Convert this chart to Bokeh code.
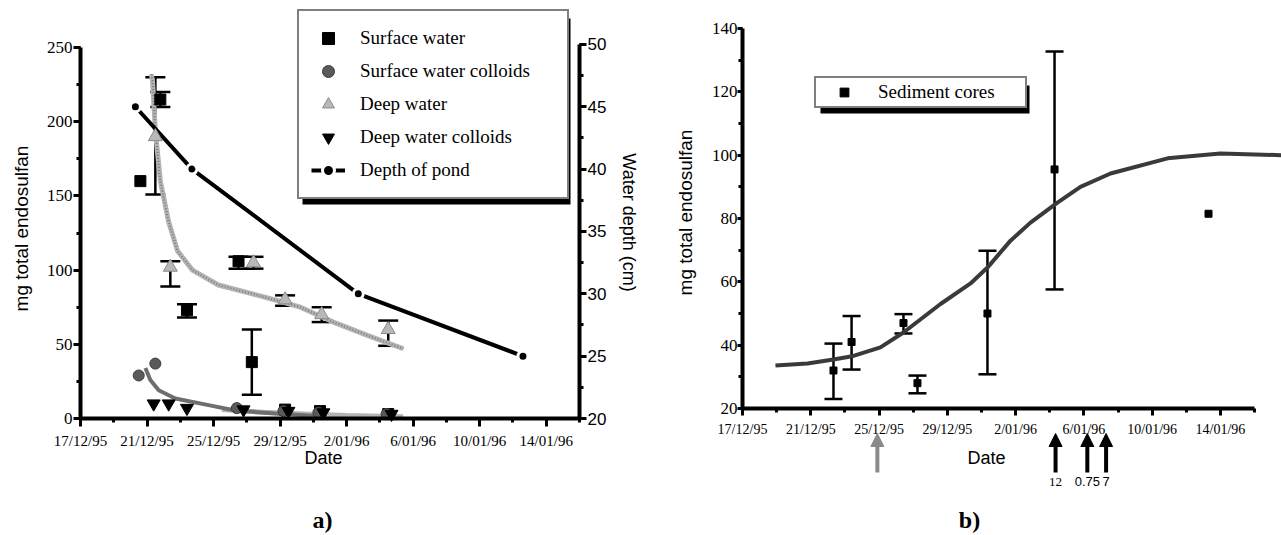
import math
from bokeh.plotting import figure
from bokeh.models import (Range1d, LinearAxis, FixedTicker, Whisker, TeeHead, ColumnDataSource,
                          Legend, LegendItem, BoxAnnotation, Arrow, NormalHead, Label)
from bokeh.layouts import row
from bokeh.embed import file_html
from bokeh.resources import INLINE

# ---------------- data (x = days since 17/12/1995) ----------------
date_ticks = [0, 4, 8, 12, 16, 20, 24, 28]
date_labels = ["17/12/95", "21/12/95", "25/12/95", "29/12/95", "2/01/96", "6/01/96", "10/01/96", "14/01/96"]

# panel a
surface_day = [3.6, 4.8, 6.4, 9.5, 10.3, 12.3, 14.4, 18.5]
surface_mg = [160, 215, 73, 106, 38, 6, 5, 3]
surface_err_day = [4.8, 6.4, 9.5, 10.3]
surface_err_lo = [210, 68, 101, 16]
surface_err_hi = [220, 77, 109, 60]

colloid_s_day = [3.5, 4.5, 9.4, 12.2, 14.3, 18.4]
colloid_s_mg = [29, 37, 7, 5, 4, 3]

deep_day = [4.5, 5.4, 10.4, 12.3, 14.5, 18.5]
deep_mg = [190, 102, 105, 80, 70, 60]
deep_lo = [151, 89, 101, 76, 65, 49]
deep_hi = [230, 106, 109, 83, 75, 66]

colloid_d_day = [4.4, 5.3, 6.4, 9.8, 12.5, 14.6, 18.7]
colloid_d_mg = [10, 10, 7, 6, 5, 4, 3]

deep_fit_day = [4.25, 4.33, 4.5, 4.8, 5.29, 5.83, 6.73, 8.29, 10.34, 12.32, 13.22, 15.2, 17.25, 19.41]
deep_fit_mg = [232, 228, 194, 160, 133, 113, 100, 90, 84, 78, 75, 65, 56, 47]

colloid_fit_day = [3.9, 4.2, 4.7, 5.7, 7.7, 9.3, 11.7, 14.4]
colloid_fit_mg = [34, 26, 19, 13.5, 9, 5.4, 3.4, 1.5]

colloid_d_fit_day = [8.5, 11, 13.5, 16, 19.4]
colloid_d_fit_mg = [6, 4.2, 3, 2, 1.2]

depth_day = [3.3, 6.7, 16.7, 26.6]
depth_cm = [45, 40, 30, 25]

# panel b
core_day = [5.33, 6.39, 9.43, 10.25, 14.35, 18.28, 27.3]
core_mg = [32, 41, 47, 28, 50, 95.5, 81.5]
core_err_day = [5.33, 6.39, 9.43, 10.25, 14.35, 18.28]
core_lo = [23, 32.3, 43.7, 24.8, 30.8, 57.6]
core_hi = [40.5, 49.2, 49.8, 30.4, 69.8, 132.7]

core_fit_day = [1.93, 3.81, 5.33, 6.5, 8.08, 9.43, 11.6, 13.36, 14.35, 15.7, 16.87, 18.45, 19.8,
                21.56, 24.9, 28.0, 31.63]
core_fit_mg = [33.6, 34.2, 35.5, 36.6, 39.3, 44, 53, 59.5, 64.5, 73, 78.7, 85, 90, 94.2, 99, 100.5, 100]

arrow_day = [7.9, 18.34, 20.2, 21.3]
arrow_text = ["", "12", "0.75", "7"]
arrow_color = ["#8a8a8a", "black", "black", "black"]

# ---------------- helpers ----------------
SERIF = "Liberation Serif"
SANS = "Liberation Sans"
H = 535


def style_axis(ax, font, size, tick_out, standoff):
    ax.axis_line_width = 4
    ax.axis_line_color = "black"
    ax.major_tick_line_width = 3
    ax.major_tick_in = 0
    ax.major_tick_out = tick_out
    ax.minor_tick_line_width = 3
    ax.minor_tick_in = 0
    ax.minor_tick_out = 4
    ax.major_label_text_font = font
    ax.major_label_text_font_size = size
    ax.major_label_text_color = "black"
    ax.major_label_standoff = standoff
    ax.axis_label = None


def text(p, x, y, s, font, size, angle=0.0, bold=False, align="center"):
    p.add_layout(Label(x=x, y=y, text=s, angle=angle, text_align=align, text_baseline="middle",
                       text_font=font, text_font_size=size, text_color="black",
                       text_font_style="bold" if bold else "normal"))


# ================= panel a =================
A_W = 640
A_X0, A_PPD = 80.0, 499.0 / 30.0
A_Y0, A_PPU = 418.0, 408.0 / 275.0
A_PPCM = 12.47


def ax_(px):
    return (px - A_X0) / A_PPD


def ay_(py):
    return (A_Y0 - py) / A_PPU


pa = figure(width=A_W, height=H, output_backend="svg", toolbar_location=None,
            x_range=Range1d(ax_(0), ax_(A_W)), y_range=Range1d(ay_(H), ay_(0)),
            min_border_left=0, min_border_right=0, min_border_top=0, min_border_bottom=0)
pa.extra_y_ranges = {"depth": Range1d(20 + (A_Y0 - H) / A_PPCM, 20 + A_Y0 / A_PPCM)}
pa.grid.visible = False
pa.outline_line_color = None

pa.xaxis.ticker = FixedTicker(ticks=date_ticks, minor_ticks=list(range(0, 31, 2)))
pa.xaxis.major_label_overrides = dict(zip(date_ticks, date_labels))
pa.xaxis.bounds = (0, 30)
pa.xaxis.fixed_location = 0
style_axis(pa.xaxis[0], SERIF, "15px", 8, 6)

pa.yaxis.ticker = FixedTicker(ticks=list(range(0, 251, 50)), minor_ticks=list(range(0, 251, 25)))
pa.yaxis.bounds = (0, 250)
pa.yaxis.fixed_location = 0
style_axis(pa.yaxis[0], SERIF, "17px", 7, 1)

raxis = LinearAxis(y_range_name="depth",
                   ticker=FixedTicker(ticks=[20, 25, 30, 35, 40, 45, 50],
                                      minor_ticks=[20 + 2.5 * i for i in range(13)]),
                   bounds=(20, 50), fixed_location=30)
style_axis(raxis, SANS, "17px", 7, 1)
pa.add_layout(raxis, "right")

# fit curves
pa.line(deep_fit_day, deep_fit_mg, line_color="#b4b4b4", line_width=5)
pa.line(deep_fit_day, deep_fit_mg, line_color="#7a7a7a", line_width=2, line_dash="1 2")
pa.line(colloid_d_fit_day, colloid_d_fit_mg, line_color="#b4b4b4", line_width=5)
pa.line(colloid_fit_day, colloid_fit_mg, line_color="#6e6e6e", line_width=4)

# error bars
src_sw_err = ColumnDataSource(dict(x=surface_err_day, lo=surface_err_lo, hi=surface_err_hi))
src_dw_err = ColumnDataSource(dict(x=deep_day, lo=deep_lo, hi=deep_hi))
for src in (src_sw_err, src_dw_err):
    pa.add_layout(Whisker(source=src, base="x", lower="lo", upper="hi", line_width=2.5,
                          upper_head=TeeHead(size=20, line_width=2.5),
                          lower_head=TeeHead(size=20, line_width=2.5)))

# depth of pond
r_depth_line = pa.line(depth_day, depth_cm, y_range_name="depth", line_color="black", line_width=4)
r_depth_pts = pa.scatter(depth_day, depth_cm, y_range_name="depth", marker="circle", size=10,
                         fill_color="black", line_color="white", line_width=3)

# markers
r_dw = pa.scatter(deep_day, deep_mg, marker="triangle", size=14, fill_color="#b8b8b8",
                  line_color="#8a8a8a", line_width=1)
r_sw = pa.scatter(surface_day, surface_mg, marker="square", size=11, fill_color="black",
                  line_color="black")
r_sc = pa.scatter(colloid_s_day, colloid_s_mg, marker="circle", size=11, fill_color="#5a5a5a",
                  line_color="#3a3a3a")
r_dc = pa.scatter(colloid_d_day, colloid_d_mg, marker="inverted_triangle", size=13,
                  fill_color="black", line_color="black")

# legend shadow + legend
pa.add_layout(BoxAnnotation(left=ax_(302), right=ax_(570), top=ay_(18), bottom=ay_(204),
                            fill_color="black", fill_alpha=1, line_color=None))
legend_a = Legend(items=[
    LegendItem(label="Surface water", renderers=[r_sw]),
    LegendItem(label="Surface water colloids", renderers=[r_sc]),
    LegendItem(label="Deep water", renderers=[r_dw]),
    LegendItem(label="Deep water colloids", renderers=[r_dc]),
    LegendItem(label="Depth of pond", renderers=[r_depth_line, r_depth_pts]),
], location=(297, H - 199), padding=12, spacing=3, glyph_width=34, glyph_height=30,
    label_height=30, label_width=195, label_standoff=15, margin=0,
    label_text_font=SERIF, label_text_font_size="19px", label_text_color="black",
    border_line_color="black", border_line_width=2, background_fill_color="white",
    background_fill_alpha=1)
pa.add_layout(legend_a)

text(pa, ax_(21), ay_(228), "mg total endosulfan", SANS, "19px", angle=math.pi / 2)
text(pa, ax_(628), ay_(222), "Water depth (cm)", SANS, "18px", angle=-math.pi / 2)
text(pa, ax_(323), ay_(457), "Date", SANS, "18px")
text(pa, ax_(322), ay_(519), "a)", SERIF, "24px", bold=True)

# ================= panel b =================
B_W = 641
B_ORIGIN = 640
B_X0, B_PPD = 742.0, 17.07
B_Y0, B_PPU = 408.0, 380.0 / 120.0


def bx_(px):
    return (px - B_X0) / B_PPD


def by_(py):
    return 20 + (B_Y0 - py) / B_PPU


pb = figure(width=B_W, height=H, output_backend="svg", toolbar_location=None,
            x_range=Range1d(bx_(B_ORIGIN), bx_(B_ORIGIN + B_W)), y_range=Range1d(by_(H), by_(0)),
            min_border_left=0, min_border_right=0, min_border_top=0, min_border_bottom=0)
pb.grid.visible = False
pb.outline_line_color = None

pb.xaxis.ticker = FixedTicker(ticks=date_ticks, minor_ticks=list(range(0, 31, 2)))
pb.xaxis.major_label_overrides = dict(zip(date_ticks, date_labels))
pb.xaxis.bounds = (0, 30)
pb.xaxis.fixed_location = 20
style_axis(pb.xaxis[0], SERIF, "14px", 7, 6)

pb.yaxis.ticker = FixedTicker(ticks=list(range(20, 141, 20)), minor_ticks=list(range(20, 141, 10)))
pb.yaxis.bounds = (20, 140)
pb.yaxis.fixed_location = 0
style_axis(pb.yaxis[0], SERIF, "17px", 5, 0)

pb.line(core_fit_day, core_fit_mg, line_color="#3a3a3a", line_width=4)
src_core_err = ColumnDataSource(dict(x=core_err_day, lo=core_lo, hi=core_hi))
pb.add_layout(Whisker(source=src_core_err, base="x", lower="lo", upper="hi", line_width=2.5,
                      upper_head=TeeHead(size=18, line_width=2.5),
                      lower_head=TeeHead(size=18, line_width=2.5)))
r_core = pb.scatter(core_day, core_mg, marker="square", size=7, fill_color="black", line_color="black")

pb.add_layout(BoxAnnotation(left=bx_(820), right=bx_(1029), top=by_(85), bottom=by_(113),
                            fill_color="black", fill_alpha=1, line_color=None))
legend_b = Legend(items=[LegendItem(label="Sediment cores", renderers=[r_core])],
                  location=(814 - B_ORIGIN, H - 108), padding=3, spacing=0, glyph_width=50,
                  glyph_height=22, label_height=22, label_width=144, label_standoff=9, margin=0,
                  label_text_font=SERIF, label_text_font_size="19px", label_text_color="black",
                  border_line_color="black", border_line_width=2, background_fill_color="white",
                  background_fill_alpha=1)
pb.add_layout(legend_b)

for d, t, c in zip(arrow_day, arrow_text, arrow_color):
    pb.add_layout(Arrow(x_start=d, y_start=by_(472), x_end=d, y_end=by_(433), line_width=4,
                        line_color=c,
                        end=NormalHead(size=13, fill_color=c, line_color=c, line_width=1)))
    if t:
        text(pb, d, by_(481), t, SERIF if t == "12" else SANS, "13px")

text(pb, bx_(685), by_(212), "mg total endosulfan", SANS, "19px", angle=math.pi / 2)
text(pb, bx_(986), by_(457), "Date", SANS, "18px")
text(pb, bx_(969), by_(519), "b)", SERIF, "24px", bold=True)

layout = row(pa, pb)
open("out.html", "w").write(file_html(layout, INLINE))
